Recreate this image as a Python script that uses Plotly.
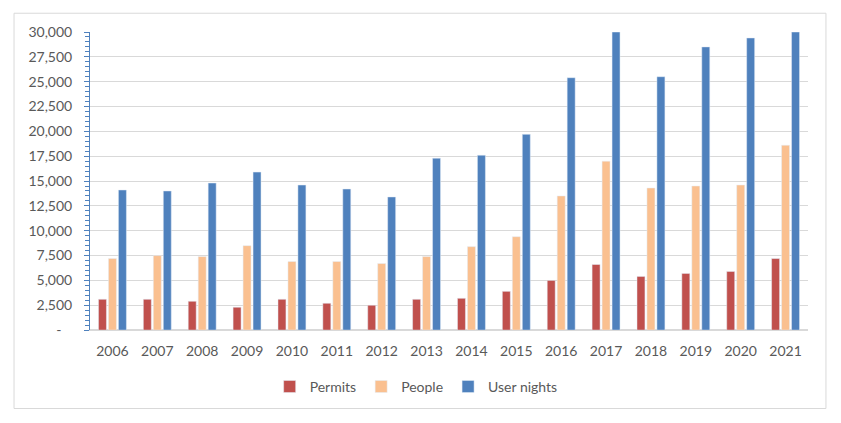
import plotly.graph_objects as go

years = ['2006', '2007', '2008', '2009', '2010', '2011', '2012', '2013',
         '2014', '2015', '2016', '2017', '2018', '2019', '2020', '2021']
permits = [3100, 3100, 2900, 2300, 3100, 2700, 2500, 3100,
           3200, 3900, 5000, 6600, 5400, 5700, 5900, 7200]
people = [7200, 7500, 7400, 8500, 6900, 6900, 6700, 7400,
          8400, 9400, 13500, 17000, 14300, 14500, 14600, 18600]
user_nights = [14100, 14000, 14800, 15900, 14600, 14200, 13400, 17300,
               17600, 19700, 25400, 30000, 25500, 28500, 29400, 30000]

y_ticks = [0, 2500, 5000, 7500, 10000, 12500, 15000, 17500,
           20000, 22500, 25000, 27500, 30000]
y_labels = ['-\u00a0\u00a0\u00a0'] + [f'{v:,}' for v in y_ticks[1:]]

text_color = '#595959'
grid_color = '#D9D9D9'
axis_blue = '#4F81BD'

fig = go.Figure()
fig.add_trace(go.Bar(x=years, y=permits, name='Permits', marker_color='#C0504D'))
fig.add_trace(go.Bar(x=years, y=people, name='People', marker_color='#FAC090'))
fig.add_trace(go.Bar(x=years, y=user_nights, name='User nights', marker_color='#4F81BD'))

# page body has an 8px margin, so the figure is a bit smaller than the window
fig.update_layout(
    width=833, height=415,
    paper_bgcolor='white', plot_bgcolor='white',
    margin=dict(l=82, r=33, t=24, b=91),
    barmode='group', bargap=0.333, bargroupgap=0.2,
    font=dict(family='Lato, Liberation Sans, sans-serif', size=14, color=text_color),
    legend=dict(orientation='h', xref='container', yref='container',
                x=0.49, xanchor='center', y=0.087, yanchor='middle',
                font=dict(size=14, color=text_color), itemwidth=30),
    shapes=[dict(type='rect', xref='paper', yref='paper',
                 x0=-0.1058, x1=1.025, y0=-0.263, y1=1.063,
                 line=dict(color=grid_color, width=1), layer='below')],
)
fig.update_xaxes(showgrid=False, ticks='', showline=True, linecolor=grid_color,
                 ticklabelstandoff=8)
fig.update_yaxes(range=[0, 30000], tickvals=y_ticks, ticktext=y_labels,
                 showgrid=True, gridcolor=grid_color, zeroline=True, zerolinecolor=grid_color,
                 showline=True, linecolor=axis_blue, ticks='outside', ticklen=5,
                 tickcolor=axis_blue, ticklabelstandoff=9,
                 minor=dict(dtick=500, ticks='outside', ticklen=4,
                            tickcolor=axis_blue, showgrid=False))

fig.write_html('out.html')
